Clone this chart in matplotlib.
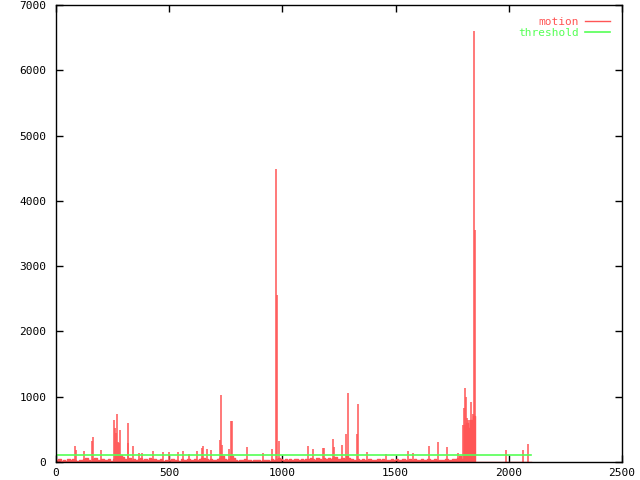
import numpy as np
import matplotlib
matplotlib.use('Agg')
import matplotlib.pyplot as plt

# --- data (frame index vs motion score) ---
# low-level motion, one value per 10 frames (frames 0..2090)
base_step = 10
base_motion = [
    30, 45, 20, 35, 15, 40, 25, 50, 30, 20,
    35, 25, 45, 60, 30, 20, 40, 55, 25, 35,
    40, 25, 30, 50, 20, 45, 90, 120, 110, 80,
    45, 30, 60, 35, 50, 25, 40, 55, 30, 45,
    35, 60, 50, 45, 30, 25, 40, 20, 35, 30,
    25, 40, 30, 35, 20, 45, 30, 25, 40, 35,
    30, 45, 25, 40, 55, 60, 45, 30, 40, 25,
    30, 40, 60, 90, 45, 35, 50, 90, 60, 30,
    20, 35, 25, 40, 30, 25, 20, 35, 25, 30,
    20, 25, 35, 30, 20, 40, 25, 45, 60, 50,
    35, 40, 25, 45, 30, 50, 40, 35, 45, 30,
    50, 40, 60, 45, 35, 55, 40, 30, 60, 50,
    55, 45, 60, 70, 40, 50, 60, 45, 90, 60,
    50, 35, 30, 40, 25, 45, 30, 25, 40, 30,
    35, 30, 45, 25, 40, 30, 35, 25, 45, 30,
    40, 30, 25, 45, 35, 30, 40, 25, 45, 35,
    30, 40, 25, 35, 45, 30, 25, 40, 30, 35,
    25, 30, 40, 35, 30, 45, 40, 60, 90, 40,
    560, 600, 520, 640, 700, 0, 0, 0, 0, 0,
    0, 0, 0, 0, 0, 0, 0, 0, 0, 0,
    0, 0, 0, 0, 0, 0, 0, 0, 0, 0,
    0,
]
base_frames = np.arange(len(base_motion)) * base_step

# individual spikes
spike_frames = [84, 88, 125, 160, 165, 197, 256, 260, 265, 271, 275, 279, 284,
                316, 320, 341, 368, 378, 428, 474, 498, 540, 562, 589, 621,
                645, 651, 665, 683, 724, 727, 733, 765, 772, 777, 845, 916,
                955, 972, 976, 984, 1114, 1137, 1181, 1185, 1225, 1230, 1263,
                1281, 1288, 1331, 1335, 1372, 1458, 1556, 1578, 1649, 1689,
                1728, 1774, 1796, 1802, 1807, 1810, 1815, 1819, 1824, 1829,
                1833, 1840, 1846, 1850, 1986, 2061, 2083]
spike_values = [250, 180, 170, 320, 385, 185, 643, 515, 449, 735, 311, 296, 490,
                286, 602, 250, 143, 143, 173, 158, 158, 158, 173, 130, 173,
                210, 245, 200, 184, 337, 1030, 260, 200, 633, 633, 235, 143,
                200, 4490, 2555, 326, 250, 200, 210, 210, 347, 225, 260,
                428, 1061, 428, 887, 153, 122, 173, 143, 245, 311,
                235, 143, 566, 821, 1127, 1000, 668, 643, 520, 643,
                923, 735, 6600, 3550, 184, 184, 275]

threshold = 100

red = '#ff5555'
green = '#55ff55'

plt.rcParams['font.family'] = ['DejaVu Sans Mono']
plt.rcParams['font.size'] = 8

fig = plt.figure(figsize=(6.4, 4.8), dpi=100)
ax = fig.add_axes([56 / 640, 18 / 480, 566 / 640, 457 / 480])

ax.fill_between(base_frames, base_motion, step='post', color=red, linewidth=0)
line_motion, = ax.step(base_frames, base_motion, where='post', color=red, lw=1,
                       label='motion')
ax.vlines(spike_frames, 0, spike_values, color=red, lw=1.1)
ax.plot([base_frames[0], base_frames[-1]], [threshold, threshold], color=green,
        lw=1.2, label='threshold')

ax.set_xlim(0, 2500)
ax.set_ylim(0, 7000)
ax.set_xticks(np.arange(0, 2501, 500))
ax.set_yticks(np.arange(0, 7001, 1000))
ax.tick_params(direction='in', length=5, width=1, top=True, right=True,
               colors='black')
ax.tick_params(axis='y', pad=7)
ax.tick_params(axis='x', pad=4)
for s in ax.spines.values():
    s.set_linewidth(1)

leg = ax.legend(loc='upper right', frameon=False, markerfirst=False,
                labelcolor='linecolor', handlelength=2.2, handletextpad=0.6,
                borderaxespad=0.7, labelspacing=0.05, fontsize=8)

fig.savefig('out.png', dpi=100)
